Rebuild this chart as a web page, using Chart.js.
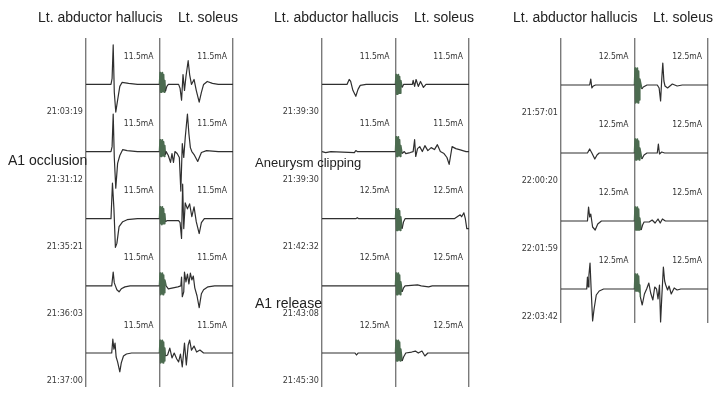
<!DOCTYPE html>
<html>
<head>
<meta charset="utf-8">
<script src="https://cdn.jsdelivr.net/npm/chart.js@4.4.1/dist/chart.umd.min.js"></script>
<style>
  body { margin: 0; width: 713px; height: 395px; overflow: hidden; position: relative; background: #fff;
         font-family: "Liberation Sans", Arial, sans-serif; color: #222; }
  .panel { position: absolute; top: 0; width: 240px; height: 395px; }
  .panel canvas { position: absolute; left: 0; top: 0; }
  .title { position: absolute; top: 9px; font-size: 14px; line-height: 16px; white-space: nowrap; }
  .note { position: absolute; font-size: 14px; line-height: 16px; white-space: nowrap; }
</style>
</head>
<body>
<div class="panel" id="panel1" style="left:0px"><canvas id="c1" width="240" height="395"></canvas></div>
<div class="panel" id="panel2" style="left:236px"><canvas id="c2" width="240" height="395"></canvas></div>
<div class="panel" id="panel3" style="left:475px"><canvas id="c3" width="240" height="395"></canvas></div>
<div class="note" style="left:8px; top:152px">A1 occlusion</div>
<div class="note" style="left:255px; top:155px; font-size:13px">Aneurysm clipping</div>
<div class="note" style="left:255px; top:295px">A1 release</div>
<script>
// recording channels, one column each (100 ms sweep)
const muscles = ["Lt. abductor hallucis", "Lt. soleus"];

const times1 = ["21:03:19", "21:31:12", "21:35:21", "21:36:03", "21:37:00"];
const times2 = ["21:39:30", "21:39:30", "21:42:32", "21:43:08", "21:45:30"];
const times3 = ["21:57:01", "22:00:20", "22:01:59", "22:03:42"];

const stim1 = ["11.5mA", "11.5mA", "11.5mA", "11.5mA", "11.5mA"];
const stim2 = ["11.5mA", "11.5mA", "12.5mA", "12.5mA", "12.5mA"];
const stim3 = ["12.5mA", "12.5mA", "12.5mA", "12.5mA"];

// [ms, amplitude] pairs per row
const p1Hallucis = [
  [[0,0],[34,0],[35.5,6],[37,40],[38.5,-8],[40.5,-28],[43,-16],[46,-2],[49,2],[58,1],[70,0],[100,0]],
  [[0,0],[34,0],[35.5,5],[37,38],[38.5,-6],[40.5,-37],[43,-12],[46,-4],[50,2],[56,1],[70,0],[100,0]],
  [[0,0],[34,0],[36,36],[38,10],[40,-29],[42,-25],[45,-8],[50,-3],[56,-1],[70,0],[100,0]],
  [[0,0],[35,0],[37,14],[38.5,3],[40,0],[42,-4],[45,-6],[48,-3],[53,-1],[60,0],[100,0]],
  [[0,0],[35,0],[36.5,14],[38,4],[39.5,10],[41,-4],[43,-9],[46,-19],[48,-10],[51,-3],[55,-1],[62,0],[100,0]],
];
const p1Soleus = [
  [[0,0],[0.8,12],[1.6,-8],[2.4,11],[3.2,-8],[4,12],[4.8,-7],[5.6,10],[6.4,-8],[7.2,4],[8,-7],[10,-2],[12,0],[26,0],[28,-4],[30,-16],[32,10],[34,-6],[36,8],[39,24],[41,10],[43.5,0],[47,5],[50,-6],[54,-18],[57,-8],[60,0],[65,3],[72,1],[80,0],[100,0]],
  [[0,0],[0.8,12],[1.6,-5],[2.4,11],[3.2,-5],[4,12],[4.8,-4],[5.6,10],[6.4,-5],[7.2,6],[8,-3],[9,0],[12,-4],[15,-11],[17,-2],[19,-11],[21,0],[24,-2],[27,-6],[29,-40],[31,8],[33,-6],[35,14],[38,38],[40,18],[42,4],[44,0],[47,-3],[52,-10],[57,-1],[64,1],[80,0],[100,0]],
  [[0,0],[0.8,12],[1.6,-5],[2.4,11],[3.2,-6],[4,12],[4.8,-5],[5.6,10],[6.4,-5],[7.2,5],[8,-3],[10,-2],[26,-2],[28,-4],[30,-20],[31.5,35],[33,-10],[35,16],[38,10],[41,15],[44,2],[47,12],[50,-3],[54,-15],[57,-4],[61,0],[100,0]],
  [[0,0],[0.8,13],[1.6,-9],[2.4,12],[3.2,-8],[4,13],[4.8,-9],[5.6,11],[6.4,-7],[7.2,6],[9,0],[12,-3],[25,-1],[29,0],[30,9],[31,-11],[33,-6],[34,14],[36,4],[38,12],[40,2],[42,13],[44,6],[46,10],[48,-2],[51,-10],[54,-22],[57,-8],[60,-4],[66,-1],[75,0],[100,0]],
  [[0,0],[0.8,13],[1.6,-10],[2.4,12],[3.2,-9],[4,13],[4.8,-10],[5.6,11],[6.4,-8],[7.2,5],[8,-3],[11,-2],[14,5],[17,-5],[20,0],[23.5,-6],[26,-9],[28.5,-1],[31,-14],[34,10],[36.5,-12],[39,8],[41,13],[43.5,3],[47,7],[50.5,1],[55,3],[60,0],[100,0]],
];

const p2Hallucis = [
  [[0,0],[34,0],[37,5],[39,3],[42,-6],[46,-12],[49,-5],[52,-1],[60,0],[100,0]],
  [[0,0],[5,-1],[12,0],[44,-1],[46,1],[48,0],[100,0]],
  [[0,0],[46,0],[48,1],[50,0],[100,0]],
  [[0,0],[100,0]],
  [[0,0],[45,0],[47,-2],[49,0],[100,0]],
];
const p2Soleus = [
  [[0,0],[0.8,10],[1.6,-10],[2.4,9],[3.2,-10],[4,10],[4.8,-9],[5.6,8],[6.4,-9],[7.2,4],[9,-3],[11,0],[23,0],[24,4],[26,-2],[28,5],[31,-2],[34,3],[38,-3],[41.5,0],[100,0]],
  [[0,0],[0.8,15],[1.6,-5],[2.4,14],[3.2,-5],[4,15],[4.8,-4],[5.6,12],[6.4,-5],[7.2,6],[9,-2],[12,0],[14,-2],[20,-1],[24,0],[26,12],[27.5,-5],[30,3],[33,5],[36.5,0],[40,6],[44,1],[48.5,4],[53,2],[57,7],[61,0],[66,-2],[70,-6],[73,-13],[75,-4],[77,5],[82,3],[87,2],[96,0],[100,0]],
  [[0,0],[0.8,10],[1.6,-12],[2.4,9],[3.2,-12],[4,10],[4.8,-11],[5.6,8],[6.4,-12],[7.2,2],[9,-10],[11,-3],[13,0],[80,0],[84,2],[88,4],[90,2],[93,6],[95,0],[97,-10],[100,-10]],
  [[0,0],[0.8,13],[1.6,-9],[2.4,12],[3.2,-9],[4,13],[4.8,-8],[5.6,11],[6.4,-9],[7.2,4],[9,-6],[11,-2],[13,0],[30,1],[35,0],[45,-1],[50,0],[100,0]],
  [[0,0],[0.8,13],[1.6,-8],[2.4,12],[3.2,-8],[4,13],[4.8,-7],[5.6,11],[6.4,-8],[7.2,4],[9,-8],[11,-4],[14,0],[22,1],[27,2],[31,0],[36,2],[40,-3],[44,0],[100,0]],
];

const p3Hallucis = [
  [[0,0],[39,0],[40.5,6],[42,-3],[44,-1],[47,0],[100,0]],
  [[0,0],[36,0],[39,4],[42,0],[46,-6],[49,-2],[52,0],[100,0]],
  [[0,0],[36,0],[37.5,14],[39,4],[40.5,7],[43,-6],[46.5,-9],[50,-3],[55,0],[100,0]],
  [[0,0],[35,0],[36,12],[37,2],[38,14],[39.5,26],[41,0],[43,-32],[45,-20],[48,-6],[52,-2],[58,0],[100,0]],
];
const p3Soleus = [
  [[0,0],[0.8,17],[1.6,-18],[2.4,16],[3.2,-17],[4,17],[4.8,-18],[5.6,14],[6.4,-15],[7.2,6],[10,-4],[12,-2],[17,0],[31,0],[33.5,-3],[35.5,-16],[37,5],[38.5,22],[40,4],[41.5,-1],[45,-3],[51.5,1],[58,-1],[65,0],[100,0]],
  [[0,0],[0.8,14],[1.6,-7],[2.4,13],[3.2,-7],[4,14],[4.8,-6],[5.6,12],[6.4,-7],[7.2,5],[10,-6],[13,-2],[17,0],[31,0],[32.5,9],[34,-1],[37,1],[41,0],[100,0]],
  [[0,0],[0.8,14],[1.6,-9],[2.4,13],[3.2,-9],[4,14],[4.8,-9],[5.6,12],[6.4,-9],[7.2,3],[9,-9],[11,-4],[13,-1],[20,-1],[24,1],[28,-2],[32,2],[35,-2],[38,2],[42,0],[100,0]],
  [[0,0],[0.8,15],[1.6,-2],[2.4,14],[3.2,-2],[4,15],[4.8,-2],[5.6,13],[6.4,-3],[7.2,4],[8,-8],[10.5,-16],[13.5,-5],[16.5,0],[19.5,6],[22,-4],[25,-11],[27.5,2],[30,0],[32,-10],[34,4],[35.5,-33],[37,-10],[39.3,22],[41,8],[42.5,4],[45,-1],[47,3],[50,-5],[54,1],[58,-1],[63,0],[100,0]],
];

const SWEEP = 100;
const ROW = 68;
const ART_END = 7.5;
const TRACE_COLOR = "#2f2f2f";
const ART_COLOR = "#4c6b50";
const NARROW = '"Liberation Sans Narrow", "DejaVu Sans Condensed", "Liberation Sans", sans-serif';

const stimLabels = {
  id: "stimLabels",
  afterDatasetsDraw(chart, args, opts) {
    const { ctx, scales: { x, y } } = chart;
    ctx.save();
    ctx.font = `8.5px ${NARROW}`;
    ctx.fillStyle = "#333";
    ctx.textAlign = "right";
    ctx.textBaseline = "middle";
    opts.labels.forEach((lab, i) => {
      const yy = y.getPixelForValue(-i * ROW + 28);
      [SWEEP, 2 * SWEEP].forEach((end) => ctx.fillText(lab, x.getPixelForValue(end) - 6, yy));
    });
    ctx.restore();
  },
};

function rowData(points, row, shift) {
  return points.map(([t, a]) => ({ x: t + shift, y: a - row * ROW }));
}

function buildDatasets(hallucis, soleus) {
  const sets = [];
  hallucis.forEach((pts, i) => {
    sets.push({ data: rowData(pts, i, 0), borderColor: TRACE_COLOR, borderWidth: 1.2 });
    sets.push({
      data: rowData(soleus[i], i, SWEEP),
      borderColor: TRACE_COLOR,
      borderWidth: 1.2,
      segment: {
        borderColor: (c) => (c.p0.parsed.x - SWEEP < ART_END ? ART_COLOR : TRACE_COLOR),
        borderWidth: (c) => (c.p0.parsed.x - SWEEP < ART_END ? 1.6 : 1.2),
      },
    });
  });
  return sets;
}

function addTitles(panelId) {
  const panel = document.getElementById(panelId);
  [38, 178].forEach((left, i) => {
    const d = document.createElement("div");
    d.className = "title";
    d.style.left = `${left}px`;
    d.textContent = muscles[i];
    panel.appendChild(d);
  });
}

function renderPanel(canvasId, panelId, hallucis, soleus, times, stim) {
  addTitles(panelId);
  const rows = times.length;
  const yMin = -(rows - 1) * ROW - 34;
  const bottomPad = 395 - 38 - (47 - yMin);
  const ctx = document.getElementById(canvasId).getContext("2d");
  return new Chart(ctx, {
    type: "line",
    data: { datasets: buildDatasets(hallucis, soleus) },
    plugins: [stimLabels],
    options: {
      responsive: false,
      animation: false,
      layout: { padding: { top: 38, bottom: bottomPad, left: 0, right: 7 } },
      elements: { point: { radius: 0 }, line: { tension: 0, borderJoinStyle: "round" } },
      plugins: {
        legend: { display: false },
        tooltip: { enabled: false },
        stimLabels: { labels: stim },
      },
      scales: {
        x: {
          type: "linear",
          min: 0,
          max: 2 * SWEEP,
          afterBuildTicks: (axis) => { axis.ticks = [0, SWEEP, 2 * SWEEP].map((v) => ({ value: v })); },
          afterFit: (s) => { s.height = 0; },
          ticks: { display: false },
          grid: { color: "#7a7a7a", lineWidth: 1.4, drawTicks: false },
          border: { display: false },
        },
        y: {
          type: "linear",
          min: yMin,
          max: 47,
          afterBuildTicks: (axis) => { axis.ticks = times.map((t, i) => ({ value: -i * ROW - 28 })); },
          afterFit: (s) => { s.width = 86; },
          ticks: {
            autoSkip: false,
            padding: 3,
            color: "#3a3a3a",
            font: { family: NARROW, size: 9 },
            callback: (v, i) => times[i],
          },
          grid: { display: false, drawTicks: false, tickLength: 0 },
          border: { display: false },
        },
      },
    },
  });
}

renderPanel("c1", "panel1", p1Hallucis, p1Soleus, times1, stim1);
renderPanel("c2", "panel2", p2Hallucis, p2Soleus, times2, stim2);
renderPanel("c3", "panel3", p3Hallucis, p3Soleus, times3, stim3);
</script>
</body>
</html>
